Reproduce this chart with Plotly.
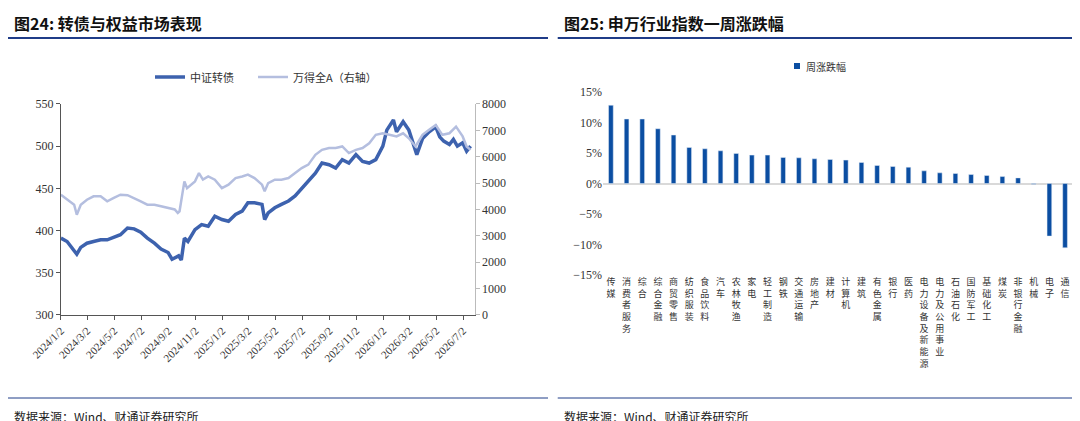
import plotly.graph_objects as go

# 图24 data
cb_dates = ["2024-01-02", "2024-01-16", "2024-02-01", "2024-02-07", "2024-02-16", "2024-03-01",
            "2024-03-16", "2024-04-01", "2024-04-16", "2024-05-01", "2024-05-16", "2024-06-01",
            "2024-06-16", "2024-07-01", "2024-07-16", "2024-08-01", "2024-08-16", "2024-09-01",
            "2024-09-10", "2024-09-25", "2024-10-01", "2024-10-08", "2024-10-16", "2024-11-01",
            "2024-11-16", "2024-12-01", "2024-12-16", "2025-01-01", "2025-01-16", "2025-02-01",
            "2025-02-16", "2025-03-01", "2025-03-16", "2025-04-02", "2025-04-08", "2025-04-16",
            "2025-05-01", "2025-05-16", "2025-06-01", "2025-06-16", "2025-07-01", "2025-07-16",
            "2025-08-01", "2025-08-16", "2025-09-01", "2025-09-16", "2025-10-01", "2025-10-16",
            "2025-11-01", "2025-11-16", "2025-12-01", "2025-12-16", "2026-01-01", "2026-01-10",
            "2026-01-25", "2026-02-01", "2026-02-16", "2026-03-01", "2026-03-10", "2026-03-19",
            "2026-04-01", "2026-04-16", "2026-05-01", "2026-05-10", "2026-05-19", "2026-06-01",
            "2026-06-10", "2026-06-19", "2026-07-01", "2026-07-10", "2026-07-19"]
cb_index = [391, 387, 376, 372, 380, 385, 387, 389, 389, 392, 395, 403,
            402, 398, 391, 385, 378, 374, 366, 370, 365, 391, 387, 401,
            407, 405, 417, 413, 411, 419, 423, 433, 433, 431, 413, 421,
            427, 431, 435, 441, 450, 458, 468, 480, 478, 474, 484, 480,
            490, 482, 480, 484, 500, 519, 531, 517, 529, 519, 504, 490,
            509, 517, 523, 511, 506, 502, 508, 500, 504, 494, 500]

wind_dates = ["2024-01-02", "2024-01-16", "2024-02-01", "2024-02-07", "2024-02-16", "2024-03-01",
              "2024-03-16", "2024-04-01", "2024-04-16", "2024-05-01", "2024-05-16", "2024-06-01",
              "2024-06-16", "2024-07-01", "2024-07-16", "2024-08-01", "2024-08-16", "2024-09-01",
              "2024-09-16", "2024-09-23", "2024-09-27", "2024-10-08", "2024-10-14", "2024-11-01",
              "2024-11-10", "2024-11-19", "2024-12-01", "2024-12-16", "2025-01-01", "2025-01-16",
              "2025-02-01", "2025-02-16", "2025-03-01", "2025-03-16", "2025-04-02", "2025-04-08",
              "2025-04-16", "2025-05-01", "2025-05-16", "2025-06-01", "2025-06-16", "2025-07-01",
              "2025-07-16", "2025-08-01", "2025-08-16", "2025-09-01", "2025-09-16", "2025-10-01",
              "2025-10-16", "2025-11-01", "2025-11-16", "2025-12-01", "2025-12-16", "2026-01-01",
              "2026-01-16", "2026-02-01", "2026-02-16", "2026-03-01", "2026-03-16", "2026-04-01",
              "2026-04-16", "2026-05-01", "2026-05-16", "2026-06-01", "2026-06-16", "2026-07-01",
              "2026-07-10", "2026-07-19"]
wind_a = [4560, 4370, 4180, 3800, 4180, 4370, 4500, 4500, 4310, 4435, 4560, 4540,
          4435, 4310, 4180, 4180, 4120, 4060, 4000, 3870, 3930, 5065, 4810, 5065,
          5380, 5130, 5250, 5130, 4810, 4940, 5190, 5250, 5320, 5190, 4940, 4690,
          5000, 5130, 5130, 5190, 5380, 5570, 5700, 6070, 6260, 6330, 6330, 6390,
          6140, 6260, 6330, 6510, 6830, 6890, 6830, 6770, 6890, 6700, 6390, 6830,
          7020, 7200, 6830, 6890, 7140, 6770, 6390, 6260]

date_ticks = ["2024-01-02", "2024-03-02", "2024-05-02", "2024-07-02", "2024-09-02", "2024-11-02",
              "2025-01-02", "2025-03-02", "2025-05-02", "2025-07-02", "2025-09-02", "2025-11-02",
              "2026-01-02", "2026-03-02", "2026-05-02", "2026-07-02"]
date_labels = ["2024/1/2", "2024/3/2", "2024/5/2", "2024/7/2", "2024/9/2", "2024/11/2",
               "2025/1/2", "2025/3/2", "2025/5/2", "2025/7/2", "2025/9/2", "2025/11/2",
               "2026/1/2", "2026/3/2", "2026/5/2", "2026/7/2"]

# 图25 data
industries = ["传媒", "消费者服务", "综合", "综合金融", "商贸零售", "纺织服装", "食品饮料", "汽车",
              "农林牧渔", "家电", "轻工制造", "钢铁", "交通运输", "房地产", "建材", "计算机", "建筑",
              "有色金属", "银行", "医药", "电力设备及新能源", "电力及公用事业", "石油石化", "国防军工",
              "基础化工", "煤炭", "非银行金融", "机械", "电子", "通信"]
weekly_chg = [12.86, 10.6, 10.6, 9.0, 7.97, 5.93, 5.71, 5.38, 4.95, 4.67, 4.67, 4.29,
              4.23, 4.07, 3.96, 3.85, 3.46, 2.97, 2.80, 2.69, 2.09, 1.76, 1.65, 1.48,
              1.32, 1.15, 0.93, -0.1, -8.63, -10.55]

CJK = "Noto Sans CJK SC"
SERIF = "Liberation Serif"
GRID = "#d9d9d9"

fig = go.Figure()
fig.add_trace(go.Scatter(x=wind_dates, y=wind_a, name="万得全A（右轴）", yaxis="y2",
                         line=dict(color="#b4bedf", width=2.5)))
fig.add_trace(go.Scatter(x=cb_dates, y=cb_index, name="中证转债", yaxis="y",
                         line=dict(color="#3d62ae", width=3.5)))
fig.add_trace(go.Bar(x=industries, y=weekly_chg, name="周涨跌幅", xaxis="x3", yaxis="y3",
                     marker_color="#0b4ea2", width=0.3))

vert_labels = ["<br>".join(n) for n in industries]

fig.update_layout(
    width=1080, height=421, margin=dict(l=0, r=0, t=0, b=0),
    paper_bgcolor="white", plot_bgcolor="white",
    font=dict(family=SERIF, size=12, color="#333"),
    showlegend=False,
    xaxis=dict(domain=[0.049, 0.432], type="date", range=["2024-01-02", "2026-07-28"],
               tickvals=date_ticks, ticktext=date_labels, tickangle=-45, automargin=False,
               ticks="outside", ticklen=4, tickcolor="#555", showline=True, linecolor="#555",
               showgrid=False, tickfont=dict(size=11)),
    yaxis=dict(domain=[0.271, 0.772], range=[300, 550], dtick=50, showgrid=False,
               showline=True, linecolor="#555", ticks="outside", ticklen=4, tickcolor="#555",
               tickfont=dict(size=12), automargin=False),
    yaxis2=dict(overlaying="y", side="right", range=[0, 8000], dtick=1000, showgrid=False,
                showline=True, linecolor="#bbb", ticks="outside", ticklen=4, tickcolor="#bbb",
                tickfont=dict(size=12), anchor="x", automargin=False),
    xaxis3=dict(domain=[0.551, 0.986], anchor="y3", showgrid=False, showline=False,
                tickvals=industries, ticktext=vert_labels, tickangle=0, automargin=False,
                tickfont=dict(family=CJK, size=9), zeroline=False),
    yaxis3=dict(domain=[0.366, 0.800], anchor="x3", range=[-15, 15], dtick=5,
                ticksuffix="%", showgrid=False, zeroline=True, zerolinecolor=GRID,
                tickfont=dict(size=12), automargin=False),
)

shapes = []
for x0, x1 in [(0.0, 0.5), (0.509, 1.0)]:
    shapes.append(dict(type="line", xref="paper", yref="paper", x0=x0, x1=x1,
                       y0=1 - 30 / 421, y1=1 - 30 / 421, line=dict(color="#1f3c88", width=2)))
    shapes.append(dict(type="line", xref="paper", yref="paper", x0=x0, x1=x1,
                       y0=1 - 390 / 421, y1=1 - 390 / 421, line=dict(color="#1f3c88", width=1)))
# legend samples
shapes.append(dict(type="line", xref="paper", yref="paper", x0=147 / 1080, x1=177 / 1080,
                   y0=1 - 69 / 421, y1=1 - 69 / 421, line=dict(color="#3d62ae", width=3.5)))
shapes.append(dict(type="line", xref="paper", yref="paper", x0=250 / 1080, x1=280 / 1080,
                   y0=1 - 69 / 421, y1=1 - 69 / 421, line=dict(color="#b4bedf", width=2.5)))
shapes.append(dict(type="rect", xref="paper", yref="paper", x0=786 / 1080, x1=792 / 1080,
                   y0=1 - 61 / 421, y1=1 - 55 / 421, fillcolor="#0b4ea2", line_width=0))
fig.update_layout(shapes=shapes)

ann = [
    dict(text="<b>图24: 转债与权益市场表现</b>", x=4 / 1080, y=1 - 15 / 421, font=dict(family=CJK, size=16, color="#111")),
    dict(text="<b>图25: 申万行业指数一周涨跌幅</b>", x=554 / 1080, y=1 - 15 / 421, font=dict(family=CJK, size=16, color="#111")),
    dict(text="数据来源：Wind、财通证券研究所", x=4 / 1080, y=1 - 408 / 421, font=dict(family=CJK, size=12, color="#222")),
    dict(text="数据来源：Wind、财通证券研究所", x=554 / 1080, y=1 - 408 / 421, font=dict(family=CJK, size=12, color="#222")),
    dict(text="中证转债", x=180 / 1080, y=1 - 69 / 421, font=dict(family=CJK, size=11, color="#333")),
    dict(text="万得全A（右轴）", x=283 / 1080, y=1 - 69 / 421, font=dict(family=CJK, size=11, color="#333")),
    dict(text="周涨跌幅", x=796 / 1080, y=1 - 58 / 421, font=dict(family=CJK, size=10, color="#333")),
]
for a in ann:
    a.update(xref="paper", yref="paper", xanchor="left", yanchor="middle", showarrow=False)
fig.update_layout(annotations=ann)

fig.write_html("out.html")
